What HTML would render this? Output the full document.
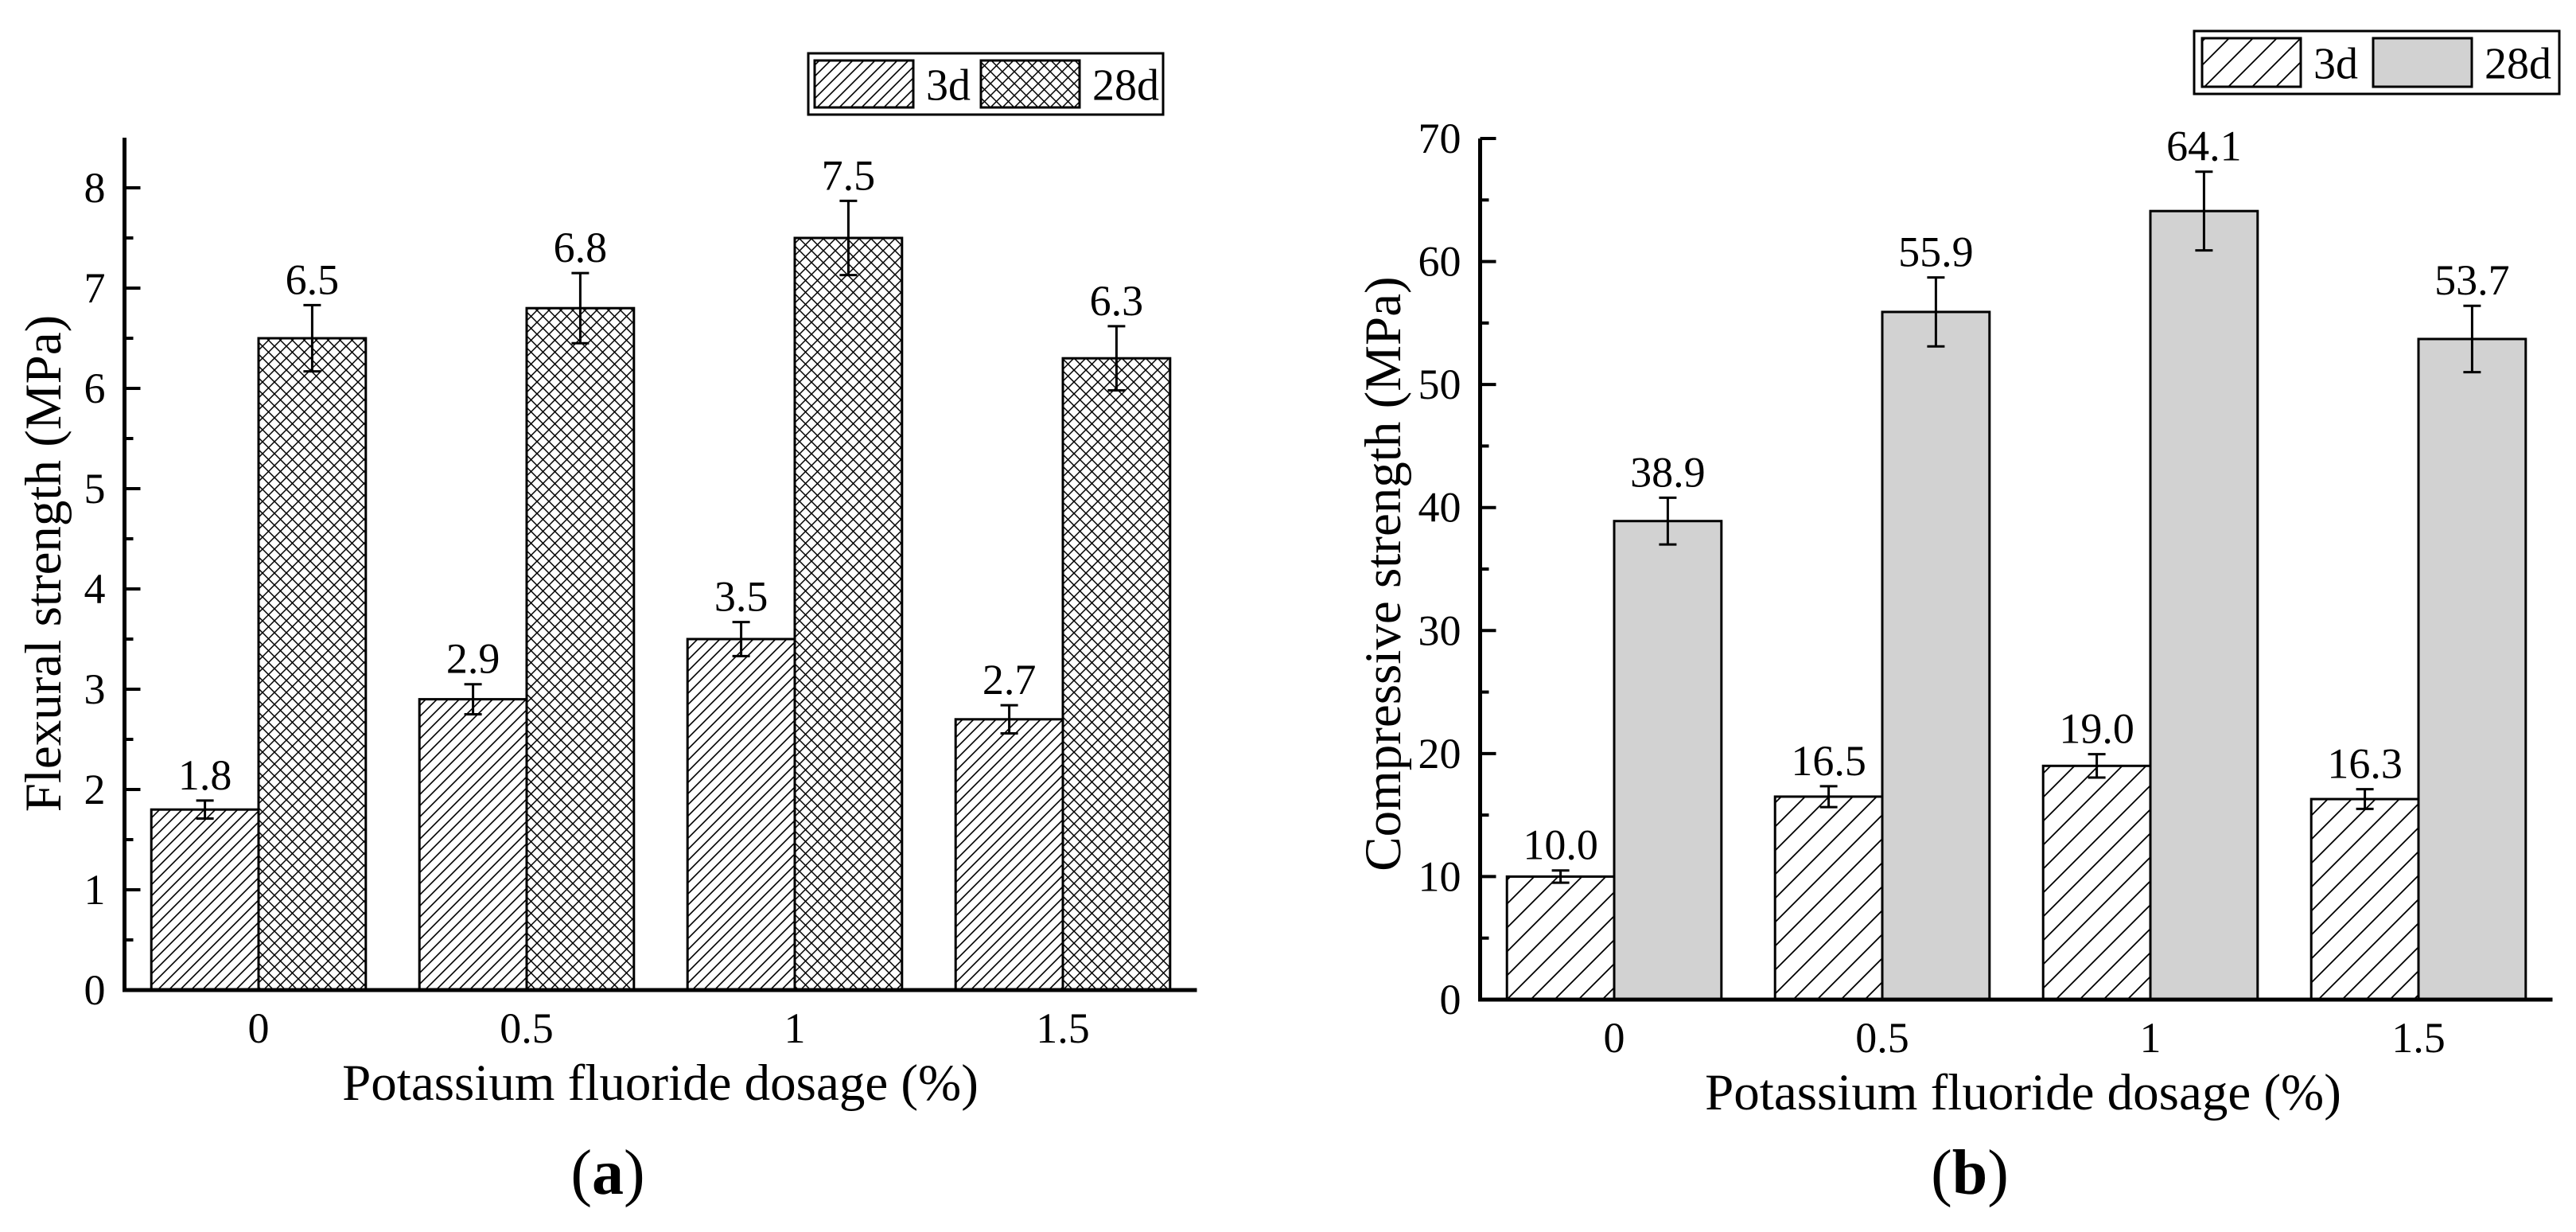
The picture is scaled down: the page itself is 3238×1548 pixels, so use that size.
<!DOCTYPE html>
<html><head><meta charset="utf-8">
<style>
html,body{margin:0;padding:0;background:#fff;}
svg{display:block;}
text{font-family:"Liberation Serif","Times New Roman",serif;fill:#000;}
</style></head>
<body>
<svg id="fig" width="3238" height="1548" viewBox="0 0 3238 1548" xmlns="http://www.w3.org/2000/svg" font-family="Liberation Serif, serif">
<defs>
  <pattern id="hatchA" patternUnits="userSpaceOnUse" width="14" height="14">
    <rect width="14" height="14" fill="#fff"/>
    <path d="M-2,16 L16,-2 M-2,2 L2,-2 M12,16 L16,12" stroke="#000" stroke-width="1.6"/>
  </pattern>
  <pattern id="crossA" patternUnits="userSpaceOnUse" width="15" height="15">
    <rect width="15" height="15" fill="#fff"/>
    <path d="M-2,17 L17,-2 M-2,-2 L17,17 M-2,2 L2,-2 M13,17 L17,13 M-2,13 L2,17 M13,-2 L17,2" stroke="#000" stroke-width="1.5"/>
  </pattern>
  <pattern id="hatchB" patternUnits="userSpaceOnUse" width="30" height="30">
    <rect width="30" height="30" fill="#fff"/>
    <path d="M-3,33 L33,-3 M-3,3 L3,-3 M27,33 L33,27" stroke="#000" stroke-width="1.8"/>
  </pattern>
</defs>
<g id="panelA"></g>
<g id="panelB"></g>
</svg>
<script>
const NS = "http://www.w3.org/2000/svg";
// ---- data ----
const categories = ["0", "0.5", "1", "1.5"];
const flex3d = [1.8, 2.9, 3.5, 2.7];
const flex28d = [6.5, 6.8, 7.5, 6.3];
const flex3dErr = [0.09, 0.15, 0.17, 0.14];
const flex28dErr = [0.33, 0.35, 0.37, 0.32];
const flexTicks = [0, 1, 2, 3, 4, 5, 6, 7, 8];
const comp3d = [10.0, 16.5, 19.0, 16.3];
const comp28d = [38.9, 55.9, 64.1, 53.7];
const comp3dErr = [0.5, 0.85, 0.95, 0.8];
const comp28dErr = [1.9, 2.8, 3.2, 2.7];
const compTicks = [0, 10, 20, 30, 40, 50, 60, 70];
const seriesNames = ["3d", "28d"];

function el(tag, attrs, parent, txt) {
  const e = document.createElementNS(NS, tag);
  for (const k in attrs) e.setAttribute(k, attrs[k]);
  if (txt !== undefined) e.textContent = txt;
  parent.appendChild(e);
  return e;
}

function drawPanel(g, cfg) {
  const yS = v => cfg.y0 - (v - cfg.ymin) / (cfg.ymax - cfg.ymin) * (cfg.y0 - cfg.yTop);
  const xS = i => cfg.cat0 + i * cfg.step;
  const xL = cfg.cat0 - cfg.step / 2, xR = cfg.cat0 + 3.5 * cfg.step;
  const bw = cfg.step * 0.4;
  const series = [[cfg.s1, cfg.e1, cfg.f1, -1], [cfg.s2, cfg.e2, cfg.f2, 0]];
  series.forEach((s, si) => {
    s[0].forEach((v, i) => {
      const x = xS(i) + s[3] * bw;
      const r = el('rect', {x: x, y: yS(v), width: bw, height: yS(0) - yS(v), fill: s[2], stroke: '#000', 'stroke-width': 3}, g);
      
      
    });
  });
  series.forEach((s, si) => {
    s[0].forEach((v, i) => {
      const cx = xS(i) + s[3] * bw + bw / 2;
      const top = yS(v + s[1][i]), bot = yS(v - s[1][i]);
      const eb = el('path', {d: `M${cx},${top}V${bot}M${cx-11},${top}H${cx+11}M${cx-11},${bot}H${cx+11}`, stroke: '#000', 'stroke-width': 3, fill: 'none'}, g);
      
      
      const t = el('text', {x: cx, y: top - 14, 'text-anchor': 'middle', 'font-size': 54}, g, v.toFixed(1));
      
      
    });
  });
  const ax = el('path', {d: `M${xL},${cfg.yTop}V${cfg.y0}H${xR}`, stroke: '#000', 'stroke-width': 5, fill: 'none'}, g);
  
  
  cfg.ticks.forEach((tv) => {
    const y = yS(tv);
    const tk = el('line', {x1: xL, x2: xL + 20, y1: y, y2: y, stroke: '#000', 'stroke-width': 4}, g);
    
    
    const tl = el('text', {x: xL - 24, y: y + 18, 'text-anchor': 'end', 'font-size': 54}, g, String(tv));
    
    
    const mv = tv + (cfg.ticks[1] - cfg.ticks[0]) / 2;
    if (mv < cfg.ymax) {
      const my = yS(mv);
      const mt = el('line', {x1: xL, x2: xL + 11, y1: my, y2: my, stroke: '#000', 'stroke-width': 4}, g);
      
      
    }
  });
  categories.forEach((c, i) => {
    const t = el('text', {x: xS(i), y: cfg.y0 + 66, 'text-anchor': 'middle', 'font-size': 54}, g, c);
    
    
  });
  const xt = el('text', {x: cfg.xTitleX, y: cfg.y0 + 138, 'text-anchor': 'middle', 'font-size': 65}, g, 'Potassium fluoride dosage (%)');
  
  
  const yt = el('text', {x: 0, y: 0, 'text-anchor': 'middle', 'font-size': 65, transform: `translate(${cfg.yTitleX},${cfg.yTitleY}) rotate(-90)`}, g, cfg.yTitle);
  
  
  const pl = el('text', {x: cfg.letterX, y: 1500, 'text-anchor': 'middle', 'font-size': 80}, g);
  
  
  el('tspan', {}, pl, '(');
  el('tspan', {'font-weight': 'bold'}, pl, cfg.letter);
  el('tspan', {}, pl, ')');
  const L = cfg.leg;
  const lg = el('g', {}, g);
  
  
  el('rect', {x: L.x, y: L.y, width: L.w, height: L.h, fill: '#fff', stroke: '#000', 'stroke-width': 3}, lg);
  [[cfg.f1, L.s1, seriesNames[0]], [cfg.f2, L.s2, seriesNames[1]]].forEach(([f, sx, name]) => {
    const en = el('g', {}, lg);
    
    
    el('rect', {x: sx, y: L.y + 9, width: 124, height: L.h - 18, fill: f, stroke: '#000', 'stroke-width': 3}, en);
    el('text', {x: sx + 140, y: L.y + L.h / 2 + 20, 'font-size': 56}, en, name);
  });
}

drawPanel(document.getElementById('panelA'), {
  s1: flex3d, s2: flex28d, e1: flex3dErr, e2: flex28dErr, ticks: flexTicks,
  f1: 'url(#hatchA)', f2: 'url(#crossA)',
  ymin: 0, ymax: 8.5, y0: 1244, yTop: 173,
  cat0: 325, step: 337,
  xTitleX: 830, yTitleX: 76, yTitleY: 708, yTitle: 'Flexural strength (MPa)',
  letter: 'a', letterX: 764,
  leg: {x: 1016, y: 67, w: 446, h: 77, s1: 1024, s2: 1233}
});
drawPanel(document.getElementById('panelB'), {
  s1: comp3d, s2: comp28d, e1: comp3dErr, e2: comp28dErr, ticks: compTicks,
  f1: 'url(#hatchB)', f2: '#d2d2d2',
  ymin: 0, ymax: 70, y0: 1256, yTop: 174,
  cat0: 2029, step: 337,
  xTitleX: 2543, yTitleX: 1760, yTitleY: 721, yTitle: 'Compressive strength (MPa)',
  letter: 'b', letterX: 2476,
  leg: {x: 2758, y: 39, w: 459, h: 79, s1: 2768, s2: 2983}
});
</script>
</body></html>
